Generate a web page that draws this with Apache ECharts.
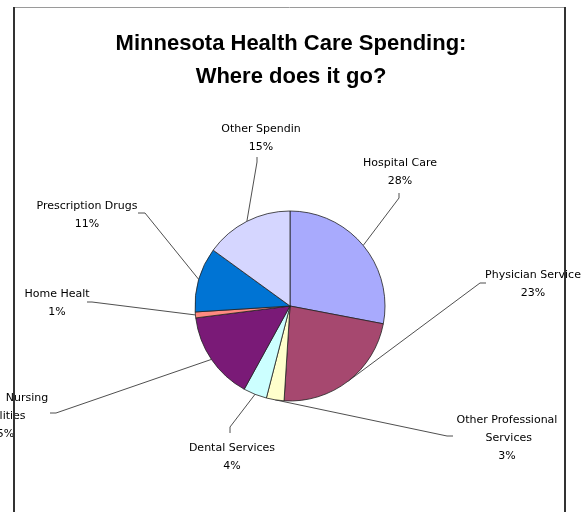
<!DOCTYPE html>
<html>
<head>
<meta charset="utf-8">
<title>Minnesota Health Care Spending</title>
<script src="https://cdn.jsdelivr.net/npm/echarts@6/dist/echarts.min.js"></script>
<style>
  html, body { margin: 0; padding: 0; background: #fff; }
  #chart { width: 582px; height: 512px; }
</style>
</head>
<body>
<div id="chart"></div>
<script>
// Spending categories, clockwise from 12 o'clock
const categories = [
  'Hospital Care',
  'Physician Services',
  'Other Professional Services',
  'Dental Services',
  'Nursing Facilities',
  'Home Health',
  'Prescription Drugs',
  'Other Spending'
];
// Share of total spending, percent
const shares = [28, 23, 3, 4, 15, 1, 11, 15];
const sliceColors = [
  '#A8AAFD', '#A6486F', '#FFFFCC', '#CCFFFF',
  '#7A1A77', '#FF8A80', '#0074D4', '#D5D6FF'
];

// Where each label sits, where its leader line meets it (anchor) and the
// short tick before the line runs to the slice edge.
const labelSpots = [
  { x: 400, y: 172, anchor: [399, 193], tick: [399, 198] },
  { x: 533, y: 284, anchor: [486, 283], tick: [480, 283], clip: 97 },
  { x: 507, y: 438, anchor: [453, 436], tick: [447, 436], wrap: 104 },
  { x: 232, y: 457, anchor: [230, 433], tick: [230, 427] },
  { x: 27,  y: 416, anchor: [50, 413],  tick: [56, 413], split: true },
  { x: 57,  y: 303, anchor: [87, 302],  tick: [92, 302], clip: 67 },
  { x: 87,  y: 215, anchor: [138, 213], tick: [145, 213] },
  { x: 261, y: 138, anchor: [257, 157], tick: [257, 162], clip: 84 }
];

const labelFont = { fontFamily: 'DejaVu Sans', fontSize: 11, color: '#000', lineHeight: 18 };

const pieData = categories.map((name, i) => {
  const spot = labelSpots[i];
  const item = { name: name, value: shares[i], itemStyle: { color: sliceColors[i] } };
  if (spot.clip) {
    item.label = { width: spot.clip, overflow: 'truncate', ellipsis: '' };
  } else if (spot.wrap) {
    item.label = { width: spot.wrap, overflow: 'break' };
  }
  return item;
});

const chart = echarts.init(document.getElementById('chart'), null, { renderer: 'canvas' });

chart.setOption({
  animation: false,
  backgroundColor: '#fff',
  title: {
    text: 'Minnesota Health Care Spending:\nWhere does it go?',
    left: 'center',
    top: 22,
    textStyle: {
      fontFamily: 'Liberation Sans',
      fontSize: 22,
      fontWeight: 'bold',
      color: '#000',
      lineHeight: 33
    }
  },
  graphic: [
    { type: 'line', z: 100, shape: { x1: 13, y1: 7.5, x2: 566, y2: 7.5 }, style: { stroke: '#9a9a9a', lineWidth: 1 } },
    { type: 'line', z: 100, shape: { x1: 14, y1: 7, x2: 14, y2: 512 }, style: { stroke: '#333', lineWidth: 2 } },
    { type: 'line', z: 100, shape: { x1: 565, y1: 7, x2: 565, y2: 512 }, style: { stroke: '#333', lineWidth: 2 } }
  ],
  series: [{
    type: 'pie',
    center: [290, 306],
    radius: 95,
    startAngle: 90,
    clockwise: true,
    avoidLabelOverlap: false,
    emphasis: { disabled: true },
    itemStyle: { borderColor: '#222', borderWidth: 0.8 },
    data: pieData,
    label: Object.assign({
      show: true,
      position: 'outside',
      align: 'center',
      formatter: function (p) {
        const spot = labelSpots[p.dataIndex];
        const pct = Math.round(p.percent) + '%';
        if (spot.split) {
          const words = p.name.split(' ');
          return '{a|' + words[0] + '}\n{b|' + words.slice(1).join(' ') + '}\n{b|' + pct + '}';
        }
        return p.name + '\n' + pct;
      },
      rich: {
        a: Object.assign({}, labelFont),
        b: Object.assign({ padding: [0, 50, 0, 0] }, labelFont)
      }
    }, labelFont),
    labelLine: {
      show: true,
      length: 10,
      length2: 5,
      smooth: false,
      lineStyle: { color: '#222', width: 0.8 }
    },
    labelLayout: function (params) {
      const spot = labelSpots[params.dataIndex];
      const out = { x: spot.x, y: spot.y, align: 'center', verticalAlign: 'middle' };
      const pts = params.labelLinePoints;
      if (pts && pts.length) {
        out.labelLinePoints = [[pts[0][0], pts[0][1]], spot.tick.slice(), spot.anchor.slice()];
      }
      return out;
    }
  }]
});
</script>
</body>
</html>
